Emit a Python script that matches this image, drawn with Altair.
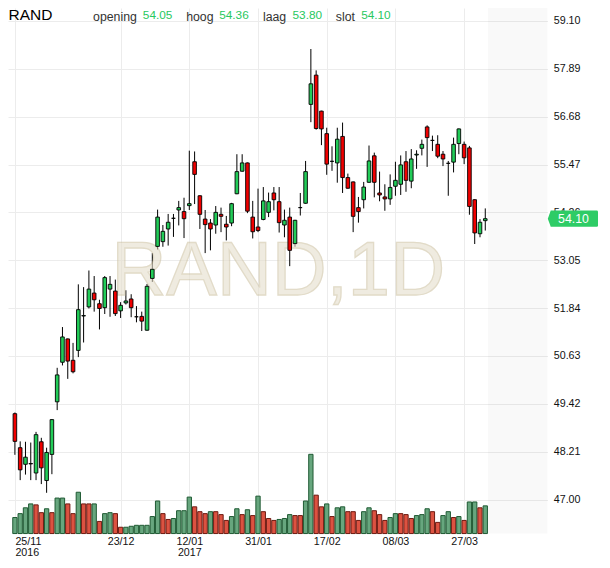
import altair as alt
import pandas as pd
import numpy as np

# ---------------- data ----------------
ticker = "RAND"
watermark = "RAND,1D"

opens = [49.17, 48.31, 47.89, 47.90, 47.67, 48.46, 47.48, 48.14, 49.47, 50.47,
         51.06, 50.52, 50.77, 51.64, 51.87, 52.22, 51.95, 51.85, 52.32, 52.27,
         51.77, 51.97, 52.07, 51.62, 51.63, 51.28, 52.59, 53.40, 53.52, 53.84,
         54.11, 54.32, 54.28, 54.43, 55.54, 54.68, 54.09, 53.99, 53.94, 54.21,
         53.96, 53.99, 54.73, 55.30, 55.51, 54.14, 53.89, 54.08, 54.26, 54.75,
         54.53, 53.94, 54.14, 53.47, 54.38, 54.49, 56.99, 57.73, 56.82, 56.25,
         55.55, 55.51, 56.18, 55.14, 55.03, 54.38, 54.58, 55.02, 55.69, 54.75,
         54.65, 54.60, 54.92, 54.97, 55.54, 55.05, 55.71, 55.88, 56.42, 56.08,
         55.98, 55.73, 55.50, 55.53, 56.00, 55.98, 55.89, 54.58, 53.72, 54.05]
highs = [49.20, 48.47, 48.46, 48.44, 48.71, 48.56, 48.31, 49.03, 50.33, 51.36,
         51.07, 50.96, 52.44, 52.37, 52.79, 52.65, 52.05, 52.65, 52.65, 52.56,
         51.99, 52.29, 52.19, 51.89, 51.75, 52.45, 53.23, 54.33, 53.94, 54.22,
         54.22, 54.55, 54.63, 55.82, 55.80, 54.69, 54.32, 54.09, 54.42, 54.38,
         54.17, 54.50, 55.73, 55.73, 55.52, 54.55, 54.86, 54.90, 54.76, 54.90,
         54.90, 54.33, 54.38, 54.07, 54.75, 55.56, 58.39, 57.85, 56.83, 56.40,
         55.93, 56.40, 56.53, 55.24, 55.04, 54.65, 55.03, 55.95, 55.77, 55.29,
         54.97, 55.22, 55.54, 55.70, 55.81, 55.86, 55.83, 56.10, 56.46, 56.20,
         56.21, 55.81, 55.56, 56.15, 56.38, 56.05, 55.94, 54.59, 54.09, 54.36]
lows = [48.13, 47.49, 47.63, 47.49, 47.49, 47.39, 47.17, 47.64, 49.26, 50.39,
        50.05, 50.19, 50.60, 50.97, 51.83, 51.75, 51.30, 51.69, 51.62, 51.64,
        51.59, 51.93, 51.61, 51.48, 51.26, 51.27, 52.50, 53.32, 53.39, 53.42,
        53.64, 53.93, 53.61, 54.32, 54.47, 53.84, 53.23, 53.30, 53.72, 53.76,
        53.55, 53.91, 54.72, 55.29, 54.24, 53.60, 53.76, 54.06, 54.14, 54.31,
        53.75, 53.63, 52.90, 53.39, 54.18, 54.48, 56.54, 56.35, 55.96, 55.21,
        55.31, 55.01, 54.75, 54.86, 53.76, 54.00, 54.36, 55.01, 54.64, 54.54,
        54.30, 54.45, 54.68, 54.70, 54.78, 54.87, 55.36, 55.70, 55.41, 55.81,
        55.63, 55.43, 54.68, 55.27, 55.73, 55.48, 54.20, 53.46, 53.63, 53.80]
closes = [48.47, 47.75, 48.07, 47.91, 48.64, 47.80, 48.19, 49.02, 50.15, 51.11,
          50.50, 50.23, 51.80, 51.65, 52.32, 52.05, 51.83, 52.61, 52.44, 51.70,
          51.91, 52.02, 51.85, 51.62, 51.51, 52.39, 52.82, 54.14, 53.78, 54.01,
          54.11, 54.38, 54.10, 54.48, 55.22, 54.21, 53.95, 53.84, 54.26, 54.16,
          53.89, 54.48, 55.29, 55.51, 54.29, 53.77, 53.80, 54.55, 54.53, 54.58,
          54.00, 54.06, 53.30, 54.06, 54.38, 55.29, 57.51, 56.38, 56.37, 55.48,
          55.55, 56.11, 55.14, 54.87, 54.16, 54.28, 54.90, 55.56, 55.02, 54.70,
          54.60, 54.89, 55.07, 55.46, 55.07, 55.61, 55.73, 55.98, 56.15, 56.08,
          55.68, 55.61, 55.50, 55.98, 56.37, 55.64, 54.41, 53.74, 54.01, 54.10]
# volume (thousands of shares) and the colour of each volume bar
volumes = [330, 410, 530, 610, 590, 430, 510, 430, 730, 730,
           610, 410, 850, 610, 610, 610, 250, 410, 430, 410,
           130, 130, 150, 170, 170, 170, 350, 670, 410, 290,
           310, 470, 470, 750, 550, 450, 410, 450, 450, 390,
           270, 350, 510, 390, 490, 370, 770, 450, 310, 270,
           290, 310, 390, 370, 370, 670, 1630, 790, 550, 610,
           350, 530, 550, 450, 450, 270, 450, 530, 470, 390,
           270, 330, 410, 410, 390, 310, 370, 390, 510, 450,
           230, 370, 450, 330, 350, 270, 650, 650, 530, 570]
vol_up = "GGGGRRGRGG" "RRGRRGRGGR" "RGGGGGGGRR" "GGGGRRRGRR" "RGGRGRGRRR" \
         "GGGRRGGRRG" "RGGRRRGGRR" "RGGRRRGGGR" "RGGRGRGGRG"

price_ticks = [47.00, 48.21, 49.42, 50.63, 51.84, 53.05, 54.26, 55.47, 56.68, 57.89, 59.10]
tick_dates = ["2016-11-25", "2016-12-23", "2017-01-12", "2017-01-31",
              "2017-02-17", "2017-03-08", "2017-03-27"]
tick_labels = [["25/11", "2016"], "23/12", ["12/01", "2017"], "31/01", "17/02", "08/03", "27/03"]
header_names = ["opening", "hoog", "laag", "slot"]

# trading days (Euronext closed on 26 Dec 2016)
days = [d for d in pd.bdate_range("2016-11-25", "2017-03-31") if d != pd.Timestamp("2016-12-26")]
day_str = [d.strftime("%Y-%m-%d") for d in days]
tick_idx = [day_str.index(t) for t in tick_dates]

df = pd.DataFrame({
    "idx": np.arange(len(opens)),
    "open": opens, "high": highs, "low": lows, "close": closes,
    "vol": volumes,
    "vup": [c == "G" for c in vol_up],
})

# ---------------- layout / style ----------------
S = 0.972
W = 555 * S
H = 540.7 * S
FONT = "Liberation Sans"
GREEN = "#22cc58"
RED = "#f00000"
VGREEN, VGREEN_S = "#67a67e", "#1f5a33"
VRED, VRED_S = "#dc5241", "#6e1b12"
TXTGREEN = "#28c860"
BADGE = "#2ecc66"
GRID = "#ececec"

P0, P1 = 46.139, 59.427          # price range of the plot (bottom .. top)
VOL_K = 1.0 / (20 * 40.69)       # volume pane: price units per thousand shares

xs = alt.Scale(domain=[-0.36, 99.82], nice=False, zero=False)
ps = alt.Scale(domain=[P0, P1], nice=False, zero=False)


def lit(v):
    if isinstance(v, list):
        return "[" + ",".join("'%s'" % s for s in v) + "]"
    return "'%s'" % v


label_expr = " : ".join("datum.value == %d ? %s" % (i, lit(l)) for i, l in zip(tick_idx, tick_labels)) + " : ''"
first_tick = "datum.value == %d" % tick_idx[0]

x_axis = alt.Axis(values=tick_idx, labelExpr=label_expr, title=None, grid=True,
                  labelPadding=3, labelLineHeight=10.5, labelBaseline="top",
                  labelAlign={"condition": {"test": first_tick, "value": "left"}, "value": "center"})
y_axis = alt.Axis(values=price_ticks, format=".2f", orient="right", title=None, grid=True,
                  labelPadding=5.8, labelAlign="left", labelFlush=False)

base = alt.Chart(df)

wicks = base.mark_rule(color="#000000", strokeWidth=1).encode(
    x=alt.X("idx:Q", scale=xs, axis=x_axis),
    y=alt.Y("low:Q", scale=ps, axis=y_axis), y2="high:Q")

# future (hatched) zone
hatch = alt.Chart(pd.DataFrame({"start": [len(opens) - 0.5]})).mark_rect(
    color="#000000", opacity=0.025).encode(
    x=alt.X("start:Q", scale=xs), x2=alt.value(W),
    y=alt.value(0), y2=alt.value(H))

wm = alt.Chart(pd.DataFrame({"t": [watermark]})).mark_text(
    font=FONT, fontSize=76, fill="#e6dfcd", stroke="#cfc4a5", strokeWidth=1.3,
    opacity=0.6, align="center", baseline="alphabetic").encode(
    x=alt.value(278 * S), y=alt.value(295 * S), text="t:N")

volume = base.transform_calculate(
    vtop="%f + datum.vol * %f" % (P0, VOL_K)).mark_bar(size=4.3, strokeWidth=1).encode(
    x=alt.X("idx:Q", scale=xs),
    y=alt.Y("vtop:Q", scale=ps), y2=alt.datum(P0),
    fill=alt.condition("datum.vup", alt.value(VGREEN), alt.value(VRED)),
    stroke=alt.condition("datum.vup", alt.value(VGREEN_S), alt.value(VRED_S)),
)

bodies = base.mark_bar(size=3.6, stroke="#000000", strokeWidth=0.9).encode(
    x=alt.X("idx:Q", scale=xs),
    y=alt.Y("open:Q", scale=ps), y2="close:Q",
    fill=alt.condition("datum.close >= datum.open", alt.value(GREEN), alt.value(RED)))

last = df.iloc[-1]
badge_df = pd.DataFrame({"close": [last["close"]], "label": ["%.2f" % last["close"]]})
tag = "M -1 0 L -0.884 -0.323 L 0.95 -0.323 Q 1 -0.323 1 -0.27 L 1 0.27 Q 1 0.323 0.95 0.323 L -0.884 0.323 Z"
badge = alt.Chart(badge_df).mark_point(shape=tag, size=2520, filled=True, fill=BADGE,
                                        opacity=1, strokeWidth=0).encode(
    x=alt.value(581.2 * S), y=alt.Y("close:Q", scale=ps))
badge_txt = alt.Chart(badge_df).mark_text(font=FONT, fontSize=12.3, color="#ffffff",
                                          align="center", baseline="middle").encode(
    x=alt.value(581.8 * S), y=alt.Y("close:Q", scale=ps), text="label:N")

# header
title = alt.Chart(pd.DataFrame({"t": [ticker]})).mark_text(
    font=FONT, fontSize=15.5, color="#000000", align="left", baseline="alphabetic").encode(
    x=alt.value(0.5), y=alt.value(12.7 * S), text="t:N")
hdr = pd.DataFrame({
    "name": header_names,
    "value": ["%.2f" % last[k] for k in ["open", "high", "low", "close"]],
    "xn": [87.5 * S, 183.3 * S, 262.3 * S, 337.3 * S],
    "xv": [138.7 * S, 217.3 * S, 292.7 * S, 363.3 * S],
})
hdr_names = alt.Chart(hdr).mark_text(font=FONT, fontSize=12.3, color="#333333",
                                     align="left", baseline="alphabetic").encode(
    x=alt.X("xn:Q", scale=None), y=alt.value(13.3 * S), text="name:N")
hdr_vals = alt.Chart(hdr).mark_text(font=FONT, fontSize=11.8, color=TXTGREEN,
                                    align="left", baseline="alphabetic").encode(
    x=alt.X("xv:Q", scale=None), y=alt.value(11.0 * S), text="value:N")

chart = alt.layer(wicks, hatch, wm, volume, bodies, badge, badge_txt,
                  title, hdr_names, hdr_vals).properties(
    width=W, height=H,
    padding={"left": 0, "top": 0, "right": 593 - W, "bottom": 552 - H},
    autosize=alt.AutoSizeParams(type="none"),
).configure_view(stroke=None).configure_axis(
    gridColor=GRID, gridWidth=1, domain=False, ticks=False,
    labelFont=FONT, labelFontSize=10.7, labelColor="#111111", labelOverlap=False,
)

chart.save("out.html", embed_options={"renderer": "svg", "actions": False})
